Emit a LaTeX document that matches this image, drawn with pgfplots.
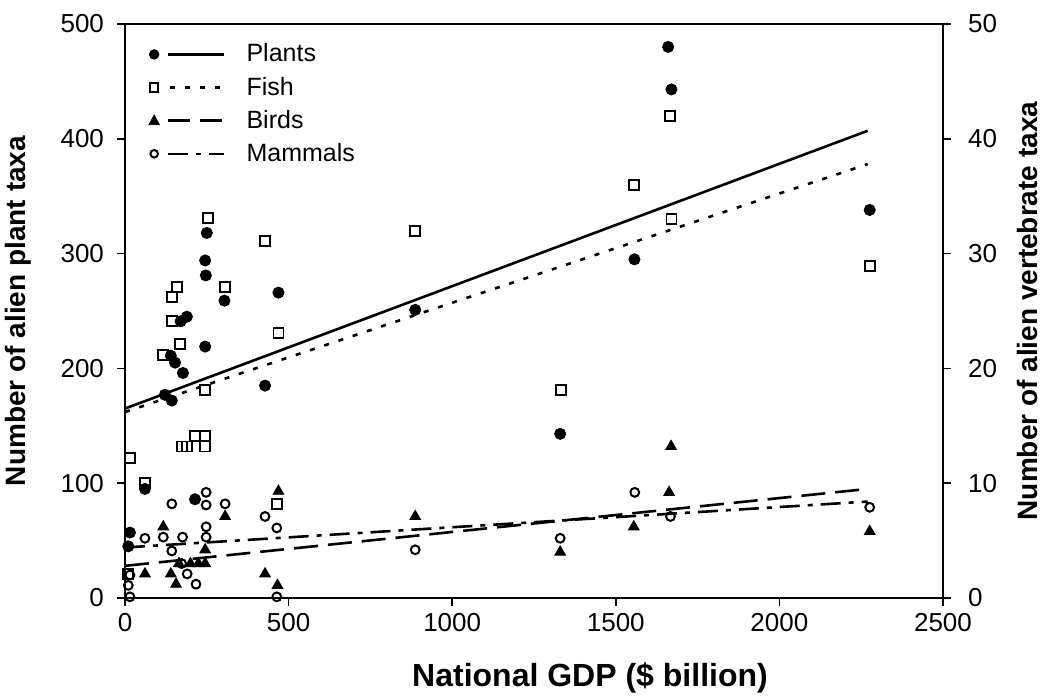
\documentclass[border=0pt]{standalone}
\usepackage{fontspec}
\setmainfont{Liberation Sans}
\usepackage{pgfplots}
\usepackage{pgfplotstable}
\pgfplotsset{compat=1.18}

% Plants (left axis, number of taxa)
\pgfplotstableread{
x y
10 45
15 57
61 95
122 177
143 172
140 211
153 205
170 241
177 196
189 245
214 86
245 219
247 281
245 294
250 318
304 259
428 185
469 266
887 251
1330 143
1557 295
1660 480
1670 443
2276 338
}\plants

% Fish (right axis)
\pgfplotstableread{
x y
10 2.1
15 12.2
61 10.0
117 21.2
143 24.1
143 26.2
158 27.1
168 22.1
173 13.2
189 13.2
214 14.1
245 14.1
245 13.2
245 18.1
253 33.1
306 27.1
428 31.1
464 8.2
469 23.1
887 32.0
1333 18.1
1555 36.0
1665 42.0
1670 33.0
2276 28.9
}\fish

% Birds (right axis)
\pgfplotstableread{
x y
61 2.1
117 6.2
140 2.1
156 1.2
165 3.0
200 3.0
224 3.0
245 3.0
245 4.2
306 7.1
428 2.1
466 1.1
469 9.3
887 7.1
1330 4.0
1555 6.2
1663 9.2
1669 13.2
2276 5.8
}\birds

% Mammals (right axis)
\pgfplotstableread{
x y
10 1.1
15 0.1
15 2.0
61 5.2
117 5.3
143 8.2
143 4.1
173 3.0
176 5.3
190 2.1
217 1.2
248 9.2
248 8.1
248 6.2
248 5.3
306 8.2
428 7.1
464 6.1
464 0.1
887 4.2
1330 5.2
1558 9.2
1667 7.1
2276 7.9
}\mammals

\begin{document}
\begin{tikzpicture}[font=\fontsize{13}{15}\selectfont]
\pgfplotsset{
  every axis/.append style={
    scale only axis, width=409pt, height=287pt,
    xmin=0, xmax=2500,
    axis line style={line width=1pt},
    tick style={line width=0.8pt, black},
    major tick length=4pt,
    tick align=outside,
    tick label style={font=\fontsize{13}{15}\selectfont},
    /pgf/number format/assume math mode=true,
    /pgf/number format/1000 sep={},
    label style={font=\fontsize{14}{16}\selectfont\bfseries},
  }
}
\begin{axis}[
  ymin=0, ymax=500,
  xtick={0,500,...,2500},
  ytick={0,100,...,500},
  xtick pos=bottom, ytick pos=left,
  yticklabel style={xshift=-3pt},
  xlabel={National GDP (\$ billion)},
  ylabel={Number of alien plant taxa},
  xlabel style={yshift=-9pt, xshift=28pt, font=\fontsize{16}{18}\selectfont\bfseries},
  ylabel style={yshift=8pt},
]
\coordinate (sw) at (rel axis cs:0,0);
\coordinate (ne) at (rel axis cs:1,1);
\addplot[forget plot, only marks, mark=*, mark size=2.8pt, black] table {\plants};
\addplot[forget plot, black, line width=1.3pt] coordinates {(0,165) (2270,407)};
\end{axis}
\begin{axis}[
  ymin=0, ymax=50,
  axis x line=none,
  axis y line*=right,
  ytick={0,10,...,50},
  ylabel={Number of alien vertebrate taxa},
  yticklabel style={xshift=5pt},
  ylabel style={yshift=-3pt},
  legend style={draw=none, fill=none, at={(0.021,0.98)}, anchor=north west,
    font=\fontsize{12.5}{14}\selectfont, row sep=2pt},
  legend cell align=left,
]
\addplot[forget plot, only marks, mark=square, mark size=2.5pt, mark options={line width=0.9pt}, black] table {\fish};
\addplot[forget plot, only marks, mark=triangle*, mark size=3.1pt, black] table {\birds};
\addplot[forget plot, only marks, mark=o, mark size=2.2pt, mark options={line width=1pt}, black] table {\mammals};
\addplot[forget plot, black, line width=1.3pt, dash pattern=on 2.5pt off 5pt] coordinates {(0,16.2) (2270,37.8)};
\addplot[forget plot, black, line width=1.3pt, dash pattern=on 12pt off 5pt] coordinates {(0,2.8) (2270,9.5)};
\addplot[forget plot, black, line width=1.3pt, dash pattern=on 10pt off 4pt on 2.5pt off 4pt] coordinates {(0,4.4) (2270,8.4)};
\addlegendimage{legend image code/.code={\fill[black] (0pt,0pt) circle (2.4pt); \draw[black, line width=1.2pt] (7pt,0pt) -- (35pt,0pt); \path (44pt,0pt);}}
\addlegendentry{Plants}
\addlegendimage{legend image code/.code={\draw[black, line width=0.9pt] (-2.1pt,-2.1pt) rectangle (2.1pt,2.1pt); \draw[black, line width=1.2pt, dash pattern=on 2.5pt off 5pt] (8pt,0pt) -- (35pt,0pt); \path (44pt,0pt);}}
\addlegendentry{Fish}
\addlegendimage{legend image code/.code={\fill[black] (-2.6pt,-2pt) -- (2.6pt,-2pt) -- (0pt,2.8pt) -- cycle; \draw[black, line width=1.2pt, dash pattern=on 11pt off 5pt] (7pt,0pt) -- (35pt,0pt); \path (44pt,0pt);}}
\addlegendentry{Birds}
\addlegendimage{legend image code/.code={\draw[black, line width=1pt] (0pt,0pt) circle (1.9pt); \draw[black, line width=1.2pt, dash pattern=on 10pt off 4pt on 2.5pt off 4pt] (7pt,0pt) -- (35pt,0pt); \path (44pt,0pt);}}
\addlegendentry{Mammals}
\end{axis}
\pgfresetboundingbox
\path ([shift={(-62.5pt,-50pt)}]sw) rectangle ([shift={(53pt,12pt)}]ne);
\end{tikzpicture}
\end{document}
